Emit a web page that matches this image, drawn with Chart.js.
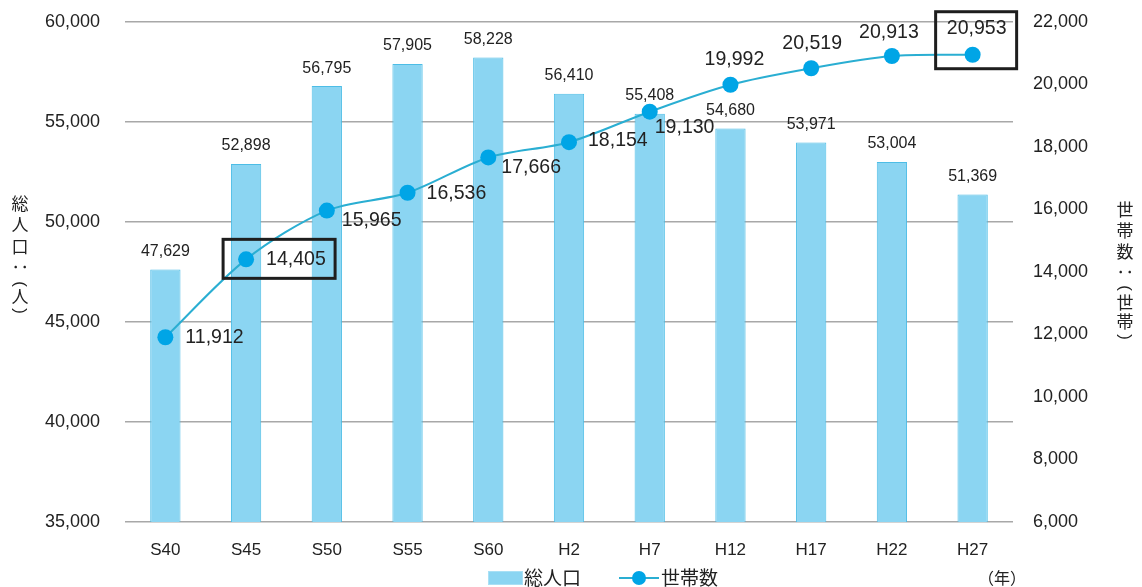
<!DOCTYPE html>
<html>
<head>
<meta charset="utf-8">
<script src="https://cdn.jsdelivr.net/npm/chart.js@4.4.1/dist/chart.umd.min.js"></script>
<style>
  html, body { margin: 0; padding: 0; background: #ffffff; }
  #wrap { width: 1142px; height: 587px; }
</style>
</head>
<body>
<div id="wrap"><canvas id="chart" width="1142" height="587"></canvas></div>
<script>
// 年次（昭和・平成）
const years = ['S40', 'S45', 'S50', 'S55', 'S60', 'H2', 'H7', 'H12', 'H17', 'H22', 'H27'];
// 総人口（人）
const population = [47629, 52898, 56795, 57905, 58228, 56410, 55408, 54680, 53971, 53004, 51369];
// 世帯数（世帯）
const households = [11912, 14405, 15965, 16536, 17666, 18154, 19130, 19992, 20519, 20913, 20953];

// 軸の範囲
const popAxis = { min: 35000, max: 60000, step: 5000 };
const hhAxis = { min: 6000, max: 22000, step: 2000 };

const BAR_FILL = '#8bd5f2';
const BAR_EDGE = '#4dbde6';
const LINE_COLOR = '#2aaed2';
const POINT_COLOR = '#00a5e6';
const TEXT = '#222222';
const LATIN = "'Liberation Sans', Arial, sans-serif";
const CJK = "'Noto Sans CJK JP', 'Noto Sans', sans-serif";

const fmt = v => Number(v).toLocaleString('en-US');

// 世帯数ラベルの配置（点からのずれ）
const hhLabelPlace = [
  { dx: 20, dy: 0, align: 'left' },
  { dx: 20, dy: 0, align: 'left' },
  { dx: 15, dy: 10, align: 'left' },
  { dx: 19, dy: 0, align: 'left' },
  { dx: 13, dy: 10, align: 'left' },
  { dx: 19, dy: -2, align: 'left' },
  { dx: 5, dy: 16, align: 'left' },
  { dx: 4, dy: -26, align: 'center' },
  { dx: 1, dy: -25, align: 'center' },
  { dx: -3, dy: -24, align: 'center' },
  { dx: 4, dy: -27, align: 'center' }
];
// 強調枠（点の位置を基準にした左・上・右・下）
const highlightBoxes = [
  { index: 1, l: -23, t: -20, r: 89, b: 19 },
  { index: 10, l: -37, t: -43, r: 44, b: 14 }
];

const valueLabels = {
  id: 'valueLabels',
  afterDatasetsDraw(chart) {
    const ctx = chart.ctx;
    ctx.save();
    ctx.fillStyle = TEXT;
    // 棒の上の数値
    const barMeta = chart.getDatasetMeta(0);
    ctx.font = '16px ' + LATIN;
    ctx.textAlign = 'center';
    ctx.textBaseline = 'bottom';
    barMeta.data.forEach((bar, i) => {
      ctx.fillText(fmt(population[i]), bar.x, bar.y - 10);
    });
    // 折れ線の数値
    const lineMeta = chart.getDatasetMeta(1);
    ctx.font = '21px ' + LATIN;
    ctx.textBaseline = 'middle';
    lineMeta.data.forEach((pt, i) => {
      const p = hhLabelPlace[i];
      ctx.save();
      ctx.translate(pt.x + p.dx, pt.y + p.dy);
      ctx.scale(0.93, 1);
      ctx.textAlign = p.align;
      ctx.fillText(fmt(households[i]), 0, 0);
      ctx.restore();
    });
    // 強調枠
    ctx.strokeStyle = '#1e1e1e';
    ctx.lineWidth = 3;
    highlightBoxes.forEach(b => {
      const pt = lineMeta.data[b.index];
      ctx.strokeRect(pt.x + b.l, pt.y + b.t, b.r - b.l, b.b - b.t);
    });
    ctx.restore();
  }
};

// 縦書き1文字（括弧・コロンは90度回転）
function drawVerticalChar(ctx, ch, x, y) {
  if ('()：'.includes(ch)) {
    ctx.save();
    ctx.translate(x, y);
    ctx.rotate(Math.PI / 2);
    if (ch !== '：') ctx.font = '17px ' + LATIN;
    ctx.fillText(ch, 0, 0);
    ctx.restore();
  } else {
    ctx.fillText(ch, x, y);
  }
}

// 縦書きの軸タイトル・凡例・単位
const decorations = {
  id: 'decorations',
  afterDraw(chart) {
    const ctx = chart.ctx;
    ctx.save();
    ctx.fillStyle = TEXT;
    ctx.textAlign = 'center';
    ctx.textBaseline = 'middle';
    ctx.font = '17px ' + CJK;
    const leftTitle = [['総', 204], ['人', 225], ['口', 247], ['：', 267], ['(', 284], ['人', 297], [')', 311]];
    leftTitle.forEach(([ch, y]) => drawVerticalChar(ctx, ch, 20, y));
    const rightTitle = [['世', 210], ['帯', 231], ['数', 252], ['：', 272], ['(', 288], ['世', 303], ['帯', 322], [')', 337]];
    rightTitle.forEach(([ch, y]) => drawVerticalChar(ctx, ch, 1125, y));

    // 凡例
    const ly = 578;
    ctx.fillStyle = BAR_FILL;
    ctx.fillRect(488, ly - 7, 35, 14);
    ctx.strokeStyle = '#a9e0f5';
    ctx.lineWidth = 1;
    ctx.strokeRect(488.5, ly - 6.5, 34, 13);
    ctx.fillStyle = TEXT;
    ctx.font = '19px ' + CJK;
    ctx.textAlign = 'left';
    ctx.fillText('総人口', 524, ly);
    ctx.strokeStyle = LINE_COLOR;
    ctx.lineWidth = 2;
    ctx.beginPath();
    ctx.moveTo(619, ly);
    ctx.lineTo(659, ly);
    ctx.stroke();
    ctx.fillStyle = POINT_COLOR;
    ctx.beginPath();
    ctx.arc(639, ly, 7, 0, Math.PI * 2);
    ctx.fill();
    ctx.fillStyle = TEXT;
    ctx.fillText('世帯数', 661, ly);

    ctx.font = '16px ' + CJK;
    ctx.fillText('（年）', 978, ly);
    ctx.restore();
  }
};

function fixWidth(w) {
  return scale => {
    scale.width = w;
    scale.paddingTop = 0;
    scale.paddingBottom = 0;
  };
}

new Chart(document.getElementById('chart'), {
  data: {
    labels: years,
    datasets: [
      {
        type: 'bar',
        label: '総人口',
        data: population,
        yAxisID: 'yPop',
        backgroundColor: BAR_FILL,
        borderColor: BAR_EDGE,
        borderWidth: 1,
        barPercentage: 0.375,
        categoryPercentage: 1,
        order: 2
      },
      {
        type: 'line',
        label: '世帯数',
        data: households,
        yAxisID: 'yHh',
        borderColor: LINE_COLOR,
        borderWidth: 2,
        tension: 0.3,
        pointRadius: 8,
        pointBackgroundColor: POINT_COLOR,
        pointBorderColor: POINT_COLOR,
        pointBorderWidth: 0,
        order: 1
      }
    ]
  },
  options: {
    responsive: false,
    animation: false,
    layout: { padding: { top: 22, bottom: 20, left: 0, right: 0 } },
    plugins: {
      legend: { display: false },
      tooltip: { enabled: false }
    },
    scales: {
      x: {
        offset: true,
        grid: { display: false, drawTicks: false },
        border: { display: false },
        ticks: { color: TEXT, font: { family: LATIN, size: 17 }, padding: 18 },
        afterFit(scale) { scale.height = 45; scale.paddingLeft = 0; scale.paddingRight = 0; }
      },
      yPop: {
        position: 'left',
        min: popAxis.min,
        max: popAxis.max,
        ticks: { stepSize: popAxis.step, color: TEXT, font: { family: LATIN, size: 18 }, padding: 25, callback: fmt },
        grid: { color: '#a8a8a8', lineWidth: 1.6, drawTicks: false },
        border: { display: false },
        afterFit: fixWidth(125)
      },
      yHh: {
        position: 'right',
        min: hhAxis.min,
        max: hhAxis.max,
        ticks: { stepSize: hhAxis.step, color: TEXT, font: { family: LATIN, size: 18 }, padding: 20, callback: fmt },
        grid: { display: false, drawTicks: false },
        border: { display: false },
        afterFit: fixWidth(129)
      }
    }
  },
  plugins: [valueLabels, decorations]
});
</script>
</body>
</html>
